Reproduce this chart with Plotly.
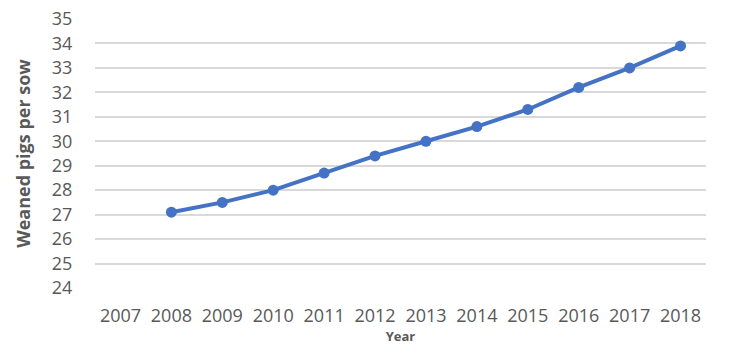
import plotly.graph_objects as go

years = ["2007", "2008", "2009", "2010", "2011", "2012", "2013", "2014", "2015", "2016", "2017", "2018"]
values = [None, 27.1, 27.5, 28.0, 28.7, 29.4, 30.0, 30.6, 31.3, 32.2, 33.0, 33.9]
y_ticks = list(range(24, 36))

fig = go.Figure()
fig.add_trace(go.Scatter(
    x=years, y=values, mode="lines+markers",
    line=dict(color="#4472C4", width=4),
    marker=dict(color="#4472C4", size=11),
    connectgaps=False, showlegend=False,
))

font_family = "'Open Sans', sans-serif"
fig.update_layout(
    width=729, height=350,
    margin=dict(l=95, r=23, t=19, b=62),
    paper_bgcolor="white", plot_bgcolor="white",
    font=dict(family=font_family, color="#595959", size=18),
    xaxis=dict(
        type="category", categoryorder="array", categoryarray=years,
        range=[-0.5, len(years) - 0.5],
        showgrid=False, showline=False, zeroline=False, automargin=False,
        ticks="outside", ticklen=11, tickcolor="rgba(0,0,0,0)",
        tickfont=dict(size=18, color="#595959"),
        title=dict(text="<b>Year</b>", font=dict(size=13, color="#595959"), standoff=6),
    ),
    yaxis=dict(
        range=[24, 35], tickvals=y_ticks, automargin=False,
        showgrid=True, gridcolor="#D9D9D9", gridwidth=2,
        zeroline=False, showline=False,
        ticks="outside", ticklen=18, tickcolor="rgba(0,0,0,0)",
        tickfont=dict(size=18, color="#595959"),
        title=dict(text="<b>Weaned pigs per sow</b>", font=dict(size=18, color="#595959"), standoff=16),
    ),
)

fig.write_html("out.html")
